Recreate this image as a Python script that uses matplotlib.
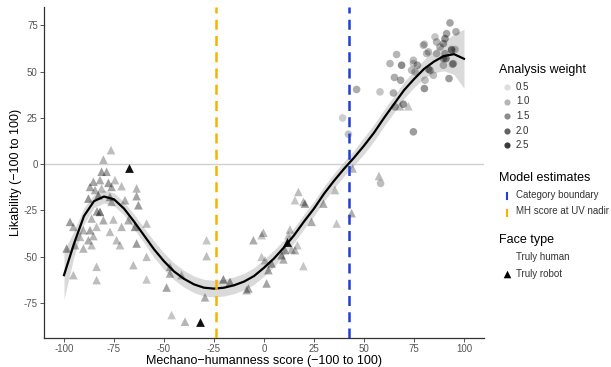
import numpy as np
import matplotlib; matplotlib.use('Agg')
import matplotlib.pyplot as plt

plt.rcParams['font.family'] = ['Liberation Sans', 'DejaVu Sans']

# ---- robot-looking faces (triangles): x, y, analysis weight ----
tri_x = [-76.5,-80.3,-81.2,-78.7,-85.3,-82,-77.8,-74.5,-87,-84.5,-81.2,-76.2,-71.2,-63.7,-82.8,-77,-63.7,
         -87.8,-69.5,-76.2,-62.8,-82,-83.5,-86.2,-80.3,-75.3,-71.2,-67.8,-64.5,-58.7,-97,-95.3,-90.3,-87,
         -83.7,-92,-87.8,-85.3,-77,-72,-94.5,-98.7,-90.3,-63.7,-58.7,-83.7,-65.3,-47,-73.7,-95.3,-83.7,
         -58.7,-47,-48.7,-28.7,-28.7,-20.3,-29.5,-46.2,-39.5,-41.2,-86.2,
         17.2,15.5,19.7,20.5,35.5,29.7,23.8,36.3,43.8,44.3,-0.3,-5.3,-1.2,13,12.2,16.7,15.5,13.8,10.5,
         8.8,9.7,0.5,-1.2,3.8,2.2,19.7,1.3,-7.8,-8.7,-17,57.5,68,72.2]
tri_y = [7.6,2.5,-4.1,-4.1,-9.5,-8.6,-10.1,-8.6,-12.3,-14,-13.1,-12.3,-11.9,-13.1,-16.8,-17.7,-17.3,
         -18.6,-19.5,-20.4,-22.2,-25.8,-25.5,-29.4,-30.3,-29.9,-33.9,-30.3,-33.9,-32.1,-31.2,-33.9,-35.7,-35.7,
         -33.9,-39.3,-41.1,-38.9,-36.6,-43.8,-43.8,-45.6,-45.6,-42.9,-50.1,-55.5,-54.6,-59.1,-41.1,-60,-62.7,
         -62.3,-55.5,-66.7,-41.1,-49.7,-62.3,-72,-81.6,-85.2,-60,-43.8,
         -15,-19.5,-20.4,-21.3,-14,-21.3,-31.2,-32.1,-26.5,-2.3,-37.1,-41.1,-38.4,-35.3,-38.4,-43.8,-46.5,-46.1,-46.5,
         -49.2,-51.5,-51.9,-50.1,-53.7,-57.3,-55.1,-64.5,-67.2,-68.1,-63.6,-6.4,31.3,31.3]
tri_w = [1.0,1.1,1.4,1.3,1.3,1.2,1.4,1.0,1.3,1.2,1.0,1.3,1.0,1.1,1.4,1.3,1.3,
         1.5,1.2,1.1,1.4,1.8,1.4,1.1,1.2,1.0,1.1,1.2,1.5,1.0,1.4,1.2,1.1,1.3,
         1.0,1.0,1.2,1.1,1.0,1.0,1.1,1.4,1.1,1.4,1.0,1.0,1.0,1.2,1.0,1.0,1.0,
         0.9,1.1,1.3,0.9,1.0,1.6,1.2,0.9,1.1,1.0,1.0,
         1.0,0.9,1.1,1.4,1.0,1.2,1.2,0.9,1.2,1.1,1.1,1.2,0.9,1.0,0.9,0.9,1.1,1.1,1.3,
         1.3,1.2,0.9,0.9,1.3,1.3,0.9,1.3,1.3,1.2,1.4,1.0,1.0,0.9]

# ---- human-looking faces (circles) ----
cir_x = [93,96,91.3,90.5,85.5,86.3,89.7,80.2,82.2,86.3,90.5,93.8,95.5,91,94.3,89.7,66.3,68.8,63,74.7,
         76.7,73.8,82.2,84.7,80.5,92.5,65.2,68.3,58,64.7,46.3,80.2,65.5,69.7,74.7,39.3,42.2,58.3,79.7,
         74.7,81.3,75.5,83,88,93.8,89.7,94.7]
cir_y = [76.4,71.6,70.6,67.9,68.8,66.1,65.2,64.9,60.7,59.8,59.8,62,62,57.1,54.1,53.5,59.3,53.5,54.4,56.2,
         53.5,50.8,51.4,48.1,45.4,46.3,46.9,45.4,39.1,38.5,40.4,40.9,31,32.4,17.5,25,16.2,-10.4,64.3,
         54.4,59.8,49.9,50.8,63.4,61.6,57.1,54.4]
cir_w = [1.3,1.2,1.3,1.5,0.9,1.1,1.3,0.9,1.1,1.0,1.2,1.2,1.0,1.6,1.3,1.0,1.1,1.6,1.1,1.0,
         1.3,1.0,1.2,1.0,1.0,1.4,1.2,1.3,0.9,1.2,1.2,1.5,1.2,1.5,1.4,0.8,0.9,1.0,1.0,
         0.9,1.0,1.0,1.3,1.1,1.2,1.3,1.0]

# ---- truly robot faces ----
robot_x = [-67.3, -32, 11.5]
robot_y = [-1.8, -85.6, -42]

# ---- fitted curve and ribbon half-width, read every 5 units ----
fit_x = list(range(-100, 101, 5))
fit_y = [-60,-43,-28,-20,-17.5,-19,-24,-31,-38.5,-46,-52.5,-58,-62,-65,-66.8,-67.3,-66.8,-65.5,-63.5,-60.5,
         -56,-51,-45,-38.5,-31,-24,-16,-9,-2.5,3.5,10,17,25,32.5,40,46,51.5,55.5,58.5,59.5,57]
fit_se = [13,7,4.5,3.5,3.5,3.5,3.5,4,4,4.5,4.5,4.5,4.5,4.5,4.5,4.5,4.5,4.5,4.5,4.5,
          4.5,4.5,4,4,4,4,4,4,4,4,4.5,4.5,4.5,4.5,4.5,4.5,5,6,8,11,16]

boundary_x = 42.5
nadir_x = -24
weight_levels = [0.5, 1.0, 1.5, 2.0, 2.5]

def w2a(w):
    return np.clip(0.1 + 0.32*(np.asarray(w) - 0.5), 0.05, 1)

fig = plt.figure(figsize=(6.11, 3.67), dpi=100)
ax = fig.add_axes([44/611, 1-338/367, 440/611, 331/367])

ax.axhline(0, color='#d0d0d0', lw=1, zorder=1)
fx = np.array(fit_x); fy = np.array(fit_y); fs = np.array(fit_se)
ax.fill_between(fx, fy-fs, fy+fs, color='#bdbdbd', alpha=0.55, lw=0, zorder=2)

tc = np.zeros((len(tri_x), 4)); tc[:, 3] = w2a(tri_w)
ax.scatter(tri_x, tri_y, marker='^', s=38, c=tc, lw=0, zorder=3)
cc = np.zeros((len(cir_x), 4)); cc[:, 3] = w2a(cir_w)
ax.scatter(cir_x, cir_y, marker='o', s=30, c=cc, lw=0, zorder=3)
ax.scatter(robot_x, robot_y, marker='^', s=40, color='#111111', lw=0, zorder=4)

ax.plot(fx, fy, color='black', lw=1.6, zorder=5)
ax.axvline(nadir_x, color='#f5b400', lw=1.8, ls=(0, (4, 2.5)), zorder=6)
ax.axvline(boundary_x, color='#1f3fd6', lw=1.8, ls=(0, (4, 2.5)), zorder=6)

ax.set_xlim(-110, 110); ax.set_ylim(-94, 85)
ax.set_xticks([-100,-75,-50,-25,0,25,50,75,100])
ax.set_yticks([-75,-50,-25,0,25,50,75])
ax.set_xticklabels(['-100','-75','-50','-25','0','25','50','75','100'])
ax.set_yticklabels(['-75','-50','-25','0','25','50','75'])
for s in ['top', 'right']:
    ax.spines[s].set_visible(False)
for s in ['left', 'bottom']:
    ax.spines[s].set_color('#333333'); ax.spines[s].set_linewidth(0.9)
ax.tick_params(colors='#555555', labelsize=7, length=3, width=0.7, pad=1.5)
ax.set_xlabel('Mechano\u2212humanness score (\u2212100 to 100)', fontsize=9, labelpad=0.5)
ax.set_ylabel('Likability (\u2212100 to 100)', fontsize=9, labelpad=1)

# ---- legends (pixel coordinates on an overlay axes) ----
lg = fig.add_axes([0, 0, 1, 1]); lg.set_xlim(0, 611); lg.set_ylim(367, 0); lg.axis('off')
lg.text(499, 70, 'Analysis weight', fontsize=9, va='center')
for i, w in enumerate(weight_levels):
    y = 87 + i*14.5
    lg.scatter([507], [y], marker='o', s=20, color='black', alpha=float(w2a(w)) + 0.03, lw=0)
    lg.text(516, y, f'{w:.1f}', fontsize=7, va='center', color='#333333')
lg.text(499, 178, 'Model estimates', fontsize=9, va='center')
lg.plot([507, 507], [193, 199], color='#1f3fd6', lw=1.5)
lg.text(516, 195, 'Category boundary', fontsize=7, va='center', color='#333333')
lg.plot([507, 507], [210, 216], color='#f5b400', lw=1.5)
lg.text(516, 211, 'MH score at UV nadir', fontsize=7, va='center', color='#333333')
lg.text(499, 240, 'Face type', fontsize=9, va='center')
lg.text(516, 257, 'Truly human', fontsize=7, va='center', color='#333333')
lg.scatter([507], [274], marker='^', s=30, color='black', lw=0)
lg.text(516, 274, 'Truly robot', fontsize=7, va='center', color='#333333')

fig.savefig('out.png', dpi=100)
